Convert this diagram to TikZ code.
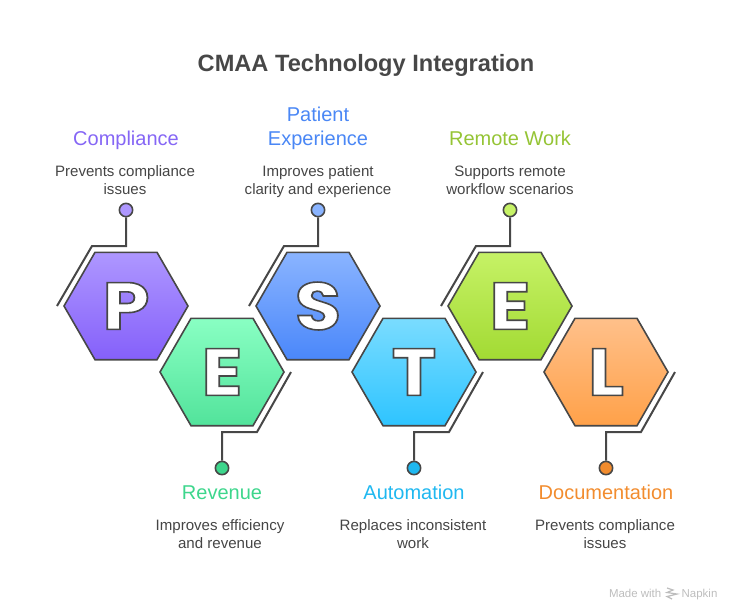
\documentclass[tikz,border=0pt]{standalone}
\usepackage{fontspec}
\usepackage{graphicx}
\usetikzlibrary{shapes.geometric}
\setmainfont{Liberation Sans}
\newfontfamily\hexfont{Poppins}
\definecolor{edgegray}{HTML}{474747}
\definecolor{bodygray}{HTML}{454545}
\definecolor{markgray}{HTML}{BDBDBD}
\definecolor{ptop}{HTML}{AE97FF}
\definecolor{pbot}{HTML}{8560FA}
\definecolor{etop}{HTML}{89FFC3}
\definecolor{ebot}{HTML}{52E39B}
\definecolor{stop}{HTML}{8AB4FF}
\definecolor{sbot}{HTML}{4A87FA}
\definecolor{ttop}{HTML}{7ADCFF}
\definecolor{tbot}{HTML}{2EC4FF}
\definecolor{rtop}{HTML}{C6F266}
\definecolor{rbot}{HTML}{A2DA33}
\definecolor{ltop}{HTML}{FFC08A}
\definecolor{lbot}{HTML}{FFA149}
\definecolor{phead}{HTML}{8566F5}
\definecolor{ehead}{HTML}{3DD68C}
\definecolor{shead}{HTML}{4A87F5}
\definecolor{thead}{HTML}{1FB8F0}
\definecolor{rhead}{HTML}{95C435}
\definecolor{lhead}{HTML}{F28C2E}
\tikzset{
  hexcell/.style={regular polygon,regular polygon sides=6,minimum size=93pt,inner sep=0pt,
    draw=edgegray,line width=1.2pt,font=\hexfont\bfseries\fontsize{50}{50}\selectfont},
  leader/.style={draw=edgegray,line width=1.5pt},
  dotcell/.style={circle,draw=edgegray,line width=1.2pt,minimum size=10pt,inner sep=0pt},
  headtext/.style={align=center,anchor=base,font=\fontsize{15}{18}\selectfont},
  bodytext/.style={align=center,anchor=base,text=bodygray,font=\fontsize{11.3}{13.5}\selectfont},
}
% white letter with a dark stroke, one piece of text
\newcommand{\hexletter}[1]{\scalebox{1.13}[1]{\special{pdf:code q 2 Tr 1.2 w 0.28 0.28 0.28 RG 1 1 1 rg}#1\special{pdf:code Q}}}
\begin{document}
\begin{tikzpicture}[x=0.75pt,y=-0.75pt]
                \useasboundingbox (0,0) rectangle (732,612);
                \node[font=\bfseries\fontsize{17.7}{22}\selectfont,text=edgegray,anchor=base] (title) at (366,71.5) {CMAA Technology Integration};

                \node[hexcell,top color=ptop,bottom color=pbot] (hexp) at (126,306) {\hexletter{P}};
                \node[hexcell,top color=etop,bottom color=ebot] (hexe) at (222,372) {\hexletter{E}};
                \node[hexcell,top color=stop,bottom color=sbot] (hexs) at (318,306) {\hexletter{S}};
                \node[hexcell,top color=ttop,bottom color=tbot] (hext) at (414,372) {\hexletter{T}};
                \node[hexcell,top color=rtop,bottom color=rbot] (hexr) at (510,306) {\hexletter{E}};
                \node[hexcell,top color=ltop,bottom color=lbot] (hexl) at (606,372) {\hexletter{L}};

                \node[dotcell,fill=ptop] (dotp) at (126,210) {};
                \node[dotcell,fill=ehead] (dote) at (222,468) {};
                \node[dotcell,fill=stop] (dots) at (318,210) {};
                \node[dotcell,fill=thead] (dott) at (414,468) {};
                \node[dotcell,fill=rtop] (dotr) at (510,210) {};
                \node[dotcell,fill=lhead] (dotl) at (606,468) {};

                % leaders run along one side of each cell
                \coordinate (startp) at (57,306);
                \coordinate (kneep) at (92,246);
                \coordinate (bendp) at (126,246);
                \coordinate (starte) at (291,372);
                \coordinate (kneee) at (257,432);
                \coordinate (bende) at (222,432);
                \coordinate (starts) at (249,306);
                \coordinate (knees) at (284,246);
                \coordinate (bends) at (318,246);
                \coordinate (startt) at (483,372);
                \coordinate (kneet) at (449,432);
                \coordinate (bendt) at (414,432);
                \coordinate (startr) at (441,306);
                \coordinate (kneer) at (476,246);
                \coordinate (bendr) at (510,246);
                \coordinate (startl) at (675,372);
                \coordinate (kneel) at (641,432);
                \coordinate (bendl) at (606,432);

                \draw[leader] (startp) -- (kneep) -- (bendp) -- (dotp);
                \draw[leader] (starte) -- (kneee) -- (bende) -- (dote);
                \draw[leader] (starts) -- (knees) -- (bends) -- (dots);
                \draw[leader] (startt) -- (kneet) -- (bendt) -- (dott);
                \draw[leader] (startr) -- (kneer) -- (bendr) -- (dotr);
                \draw[leader] (startl) -- (kneel) -- (bendl) -- (dotl);

                \node[headtext,text=phead] (headp) at (126,145) {Compliance};
                \node[bodytext] (bodyp) at (125,194) {Prevents compliance\\issues};
                \node[headtext,text=ehead] (heade) at (222,499) {Revenue};
                \node[bodytext] (bodye) at (220,548) {Improves efficiency\\and revenue};
                \node[headtext,text=shead] (heads) at (318,145) {Patient\\Experience};
                \node[bodytext] (bodys) at (318,194) {Improves patient\\clarity and experience};
                \node[headtext,text=thead] (headt) at (414,499) {Automation};
                \node[bodytext] (bodyt) at (413,548) {Replaces inconsistent\\work};
                \node[headtext,text=rhead] (headr) at (510,145) {Remote Work};
                \node[bodytext] (bodyr) at (510,194) {Supports remote\\workflow scenarios};
                \node[headtext,text=lhead] (headl) at (606,499) {Documentation};
                \node[bodytext] (bodyl) at (605,548) {Prevents compliance\\issues};

                % small mark in the corner
                \node[text=markgray,font=\fontsize{8.6}{10}\selectfont,anchor=base east] (madewith) at (666,597) {Made with};
                \node[text=markgray,font=\fontsize{8.6}{10}\selectfont,anchor=base west] (napkin) at (677,597) {Napkin};
                \draw[markgray,line width=0.9pt] (667,588) -- (673,590) -- (667,592.5) -- (677,594) -- (667,596.5) -- (672,599);
            \end{tikzpicture}
\end{document}
